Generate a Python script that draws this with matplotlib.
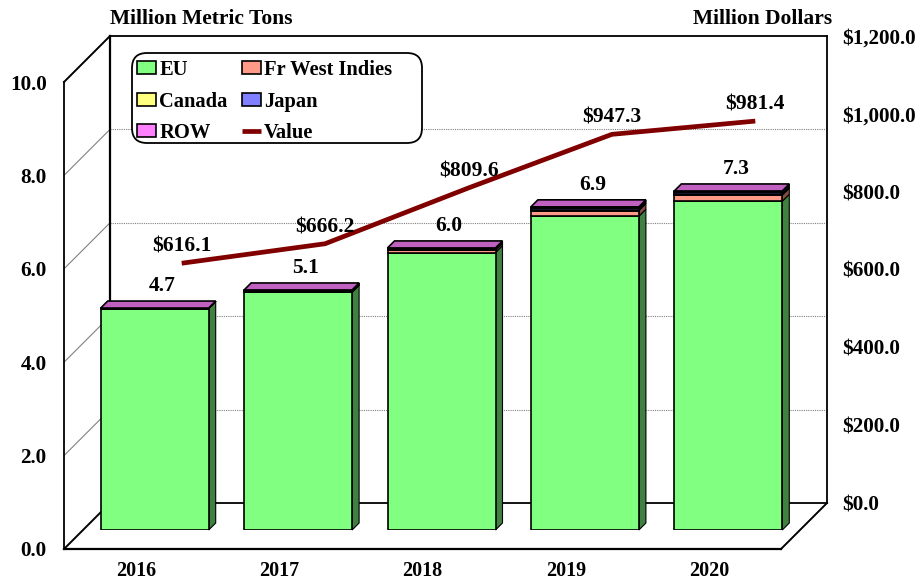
"""Stacked pseudo-3D bars of tonnage with a value line on a second scale."""
import matplotlib

matplotlib.use("Agg")
import matplotlib.pyplot as plt
import numpy as np
from matplotlib.patches import FancyBboxPatch, Polygon
from matplotlib.transforms import IdentityTransform

years = ["2016", "2017", "2018", "2019", "2020"]
eu = [4.74, 5.09, 5.94, 6.72, 7.04]
fr_west_indies = [0.003, 0.01, 0.05, 0.12, 0.13]
canada = [0.003, 0.01, 0.01, 0.02, 0.03]
japan = [0.003, 0.01, 0.01, 0.03, 0.04]
row = [0.004, 0.02, 0.03, 0.03, 0.02]
total_labels = ["4.7", "5.1", "6.0", "6.9", "7.3"]
value = [616.1, 666.2, 809.6, 947.3, 981.4]
ton_ticks = [0, 2, 4, 6, 8, 10]
dollar_ticks = [0, 200, 400, 600, 800, 1000, 1200]

W, H = 917, 581
FONT = "Liberation Serif"
plt.rcParams["font.family"] = FONT
plt.rcParams["font.weight"] = "bold"
plt.rcParams["font.size"] = 15.5

fig = plt.figure(figsize=(W / 100, H / 100), dpi=100)


def axes_px(left, top, right, bottom, z):
    ax = fig.add_axes(
        [left / W, 1 - bottom / H, (right - left) / W, (bottom - top) / H], zorder=z
    )
    ax.set_xlim(-0.5, 4.5)
    ax.set_ylim(0, 10)
    ax.patch.set_visible(False)
    return ax


# back wall, bar plane and front plane share scales, shifted by the fake depth
ax_back = axes_px(110, 36, 827, 503, 1)
ax_bars = axes_px(83, 63, 800, 530, 2)
ax_front = axes_px(64, 82, 781, 549, 4)
ax_val = ax_back.twinx()
ax_val.set_zorder(3)
ax_val.patch.set_visible(False)
ax_val.set_ylim(0, 1200)

ax_back.set_xticks([])
ax_back.set_yticks(ton_ticks[1:-1])
ax_back.tick_params(left=False, labelleft=False)
ax_back.grid(axis="y", color="#808080", linestyle=(0, (1, 1)), linewidth=0.8)
for spine in ax_back.spines.values():
    spine.set_linewidth(1.3)
ax_back.spines["left"].set_linewidth(1.6)

# side wall and floor edges
dx = 46 / 143.4
dy = 46 / 46.7
for v in ton_ticks:
    edge = v in (0, 10)
    ax_back.plot(
        [-0.5, -0.5 - dx],
        [v, v - dy],
        color="black" if edge else "#808080",
        linewidth=1.4 if edge else 0.8,
        clip_on=False,
        zorder=1,
    )
ax_back.plot([4.5, 4.5 - dx], [0, -dy], color="black", linewidth=1.4, clip_on=False)

# bars
series = [
    ("EU", eu, "#80FF80"),
    ("Canada", canada, "#FFFF80"),
    ("ROW", row, "#FF80FF"),
    ("Fr West Indies", fr_west_indies, "#FF9988"),
    ("Japan", japan, "#8080FF"),
]
stack_order = [0, 3, 1, 4, 2]
x = np.arange(len(years))
width = 108 / 143.4
bar_dx = 7 / 143.4
bar_dy = 7 / 46.7
bottom = np.zeros(len(years))
handles = {}
for idx in stack_order:
    name, vals, color = series[idx]
    vals = np.array(vals)
    handles[name] = ax_bars.bar(
        x, vals, width, bottom=bottom, color=color, edgecolor="black",
        linewidth=1.2, label=name, zorder=3,
    )
    r, g, b = matplotlib.colors.to_rgb(color)
    for i in x:
        xr = i + width / 2
        y0, y1 = bottom[i], bottom[i] + vals[i]
        ax_bars.add_patch(
            Polygon(
                [(xr, y0), (xr + bar_dx, y0 + bar_dy), (xr + bar_dx, y1 + bar_dy), (xr, y1)],
                facecolor=(r / 2, g / 2, b / 2), edgecolor="black", linewidth=0.8,
                zorder=2, clip_on=False,
            )
        )
    bottom = bottom + vals

for i in x:
    xl, xr = i - width / 2, i + width / 2
    top = bottom[i]
    ax_bars.add_patch(
        Polygon(
            [(xl, top), (xr, top), (xr + bar_dx, top + bar_dy), (xl + bar_dx, top + bar_dy)],
            facecolor="#C060C0", edgecolor="black", linewidth=1.2, zorder=4, clip_on=False,
        )
    )
    ax_bars.annotate(
        total_labels[i], (i + bar_dx / 2, top + bar_dy), xytext=(3, 11),
        textcoords="offset points", ha="center", va="center",
    )
ax_bars.axis("off")

# value line
(line,) = ax_val.plot(
    x, value, color="#800000", linewidth=3.4, solid_capstyle="butt", label="Value"
)
for i, v in zip(x, value):
    ax_val.annotate(
        f"${v:.1f}", (i, v), xytext=(0, 12), textcoords="offset points",
        ha="center", va="center",
    )
ax_val.set_yticks(dollar_ticks)
ax_val.set_yticklabels([f"${v:,.1f}" for v in dollar_ticks], fontsize=15.2)
ax_val.tick_params(right=False, pad=11, length=0)
for spine in ax_val.spines.values():
    spine.set_visible(False)

# front plane carries the ton scale and the years
ax_front.set_xticks(x)
ax_front.set_xticklabels(years, fontsize=14.5)
ax_front.set_yticks(ton_ticks)
ax_front.set_yticklabels([f"{v:.1f}" for v in ton_ticks], fontsize=15.2)
ax_front.tick_params(length=0)
ax_front.tick_params(axis="y", pad=12.5)
ax_front.tick_params(axis="x", pad=9)
ax_front.spines["top"].set_visible(False)
ax_front.spines["right"].set_visible(False)
ax_front.spines["left"].set_linewidth(1.3)
ax_front.spines["bottom"].set_linewidth(1.6)

# legend box is wider than its entries, so it is drawn on its own in pixels
ax_front.add_patch(
    FancyBboxPatch(
        (132, H - 143), 290, 90,
        boxstyle="round,pad=0,rounding_size=15",
        mutation_scale=1,
        transform=IdentityTransform(),
        facecolor="white",
        edgecolor="black",
        linewidth=1.3,
        clip_on=False,
        zorder=4.5,
    )
)
ax_front.legend(
    handles=[handles["EU"], handles["Canada"], handles["ROW"],
             handles["Fr West Indies"], handles["Japan"], line],
    ncol=2,
    loc="upper left",
    bbox_to_anchor=(137 / W, 1 - 60 / H),
    bbox_transform=fig.transFigure,
    borderaxespad=0,
    borderpad=0,
    frameon=False,
    fontsize=14.8,
    handlelength=0.93,
    handleheight=0.6,
    handletextpad=0.15,
    columnspacing=0.68,
    labelspacing=0.56,
)

fig.text(110 / W, 1 - 19 / H, "Million Metric Tons", ha="left", va="center")
fig.text(832 / W, 1 - 19 / H, "Million Dollars", ha="right", va="center")

fig.savefig("out.png", dpi=100)
